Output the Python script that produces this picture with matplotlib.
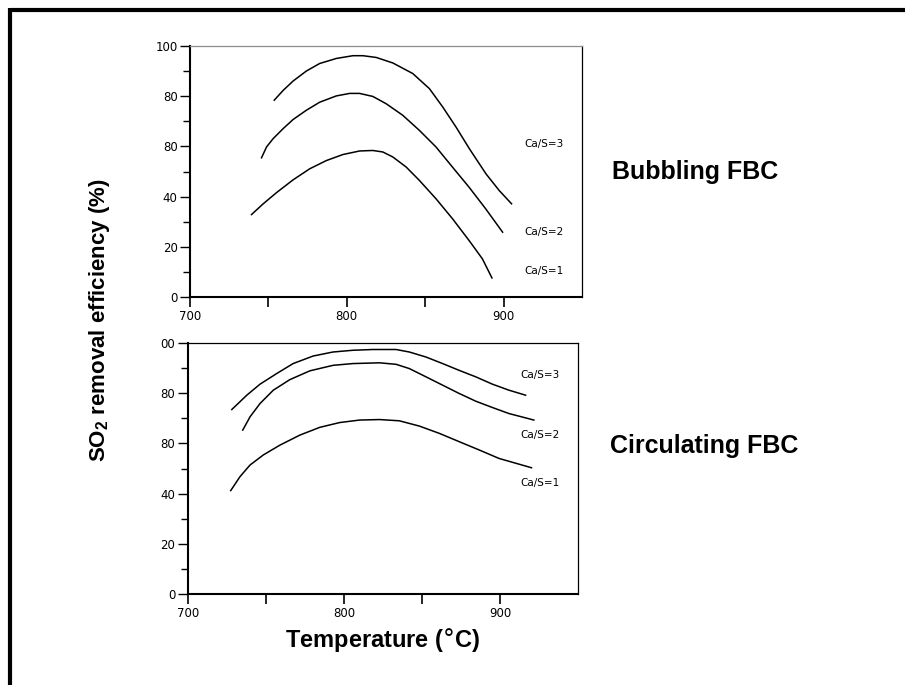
import matplotlib.pyplot as plt
from matplotlib.lines import Line2D
from matplotlib.ticker import MultipleLocator

# Bubbling FBC curves (temperature in C, removal efficiency in %)
bub_t3 = [753.7, 759.4, 765.7, 774.2, 782.7, 793.3, 803.9, 810.3, 818.8, 829.4,
          842.1, 852.7, 861.2, 869.7, 878.2, 888.8, 897.2, 905.1]
bub_e3 = [78.4, 82.3, 86.0, 90.0, 93.0, 95.0, 96.1, 96.1, 95.4, 93.2,
          89.0, 83.0, 75.7, 67.7, 59.1, 49.1, 42.5, 37.2]
bub_t2 = [745.6, 748.8, 753.0, 759.4, 765.7, 774.2, 782.7, 793.3, 801.8, 808.1,
          816.6, 825.1, 835.7, 846.3, 856.9, 867.4, 878.0, 888.6, 899.4]
bub_e2 = [55.5, 59.8, 63.1, 67.1, 70.7, 74.4, 77.6, 80.1, 81.1, 81.1,
          79.9, 77.0, 72.4, 66.4, 59.8, 51.8, 43.8, 35.2, 25.9]
bub_t1 = [739.2, 746.7, 755.1, 765.7, 776.3, 787.0, 797.6, 808.2, 816.6, 823.0,
          829.4, 837.9, 846.3, 856.9, 867.5, 878.0, 886.5, 892.6]
bub_e1 = [32.9, 37.2, 41.6, 46.7, 51.1, 54.4, 56.8, 58.2, 58.4, 57.8,
          55.8, 51.8, 46.5, 39.2, 31.2, 22.6, 15.3, 7.7]

# Circulating FBC curves
cir_t3 = [728.1, 737.7, 746.2, 756.8, 767.4, 780.2, 792.9, 805.7, 818.5, 833.4,
          841.9, 852.6, 863.2, 873.8, 884.5, 895.1, 905.7, 916.4]
cir_e3 = [73.5, 79.2, 83.6, 87.8, 91.8, 94.8, 96.4, 97.1, 97.4, 97.4,
          96.4, 94.4, 91.8, 89.1, 86.5, 83.6, 81.2, 79.2]
cir_t2 = [735.1, 739.8, 746.2, 754.7, 765.3, 778.1, 793.0, 805.7, 822.8, 833.4,
          841.9, 852.6, 863.2, 873.8, 884.5, 895.1, 905.7, 921.7]
cir_e2 = [65.3, 70.6, 75.9, 81.2, 85.4, 88.9, 91.1, 91.8, 92.1, 91.5,
          89.8, 86.5, 83.2, 79.9, 76.8, 74.3, 71.9, 69.3]
cir_t1 = [727.4, 733.4, 739.8, 748.3, 758.9, 771.7, 784.5, 797.2, 810.0, 822.8,
          835.5, 848.3, 861.1, 873.8, 886.6, 899.4, 920.2]
cir_e1 = [41.2, 46.8, 51.4, 55.4, 59.3, 63.3, 66.4, 68.3, 69.3, 69.5,
          69.0, 66.9, 64.0, 60.7, 57.4, 54.0, 50.3]

ratio_labels = ['Ca/S=3', 'Ca/S=2', 'Ca/S=1']
bub_label_y = [61, 25.9, 10.4]
cir_label_y = [87.2, 63.3, 44.1]

x_ticks = [700, 750, 800, 850, 900]
x_ticklabels = ['700', '', '800', '', '900']
y_ticks = [0, 20, 40, 60, 80, 100]
bub_yticklabels = ['0', '20', '40', '80', '80', '100']
cir_yticklabels = ['0', '20', '40', '80', '80', '00']

tick_font = 'DejaVu Sans'
bold_font = ['Liberation Sans']

fig = plt.figure(figsize=(9.05, 6.85), dpi=100)
ax1 = fig.add_axes([0.210, 0.566, 0.433, 0.367])
ax2 = fig.add_axes([0.2077, 0.1328, 0.431, 0.3665])


def style(ax, curves, label_y, yticklabels, top_color):
    for t, e in curves:
        ax.plot(t, e, color='black', lw=1.1, solid_joinstyle='round')
    for lab, y in zip(ratio_labels, label_y):
        ax.text(913, y, lab, fontsize=7.5, family=tick_font, va='center', ha='left')
    ax.set_xlim(700, 950)
    ax.set_ylim(0, 100)
    ax.set_xticks(x_ticks)
    ax.set_xticklabels(x_ticklabels, fontsize=8.5, family=tick_font)
    ax.set_yticks(y_ticks)
    ax.set_yticklabels(yticklabels, fontsize=8.5, family=tick_font)
    ax.yaxis.set_minor_locator(MultipleLocator(10))
    ax.tick_params(axis='x', direction='out', length=7, width=1.2, pad=2)
    ax.tick_params(axis='y', which='major', direction='out', length=7, width=1, pad=2)
    ax.tick_params(axis='y', which='minor', direction='out', length=5, width=1)
    ax.spines['left'].set_linewidth(1.5)
    ax.spines['bottom'].set_linewidth(1.5)
    ax.spines['right'].set_linewidth(0.9)
    ax.spines['top'].set_linewidth(0.9)
    ax.spines['top'].set_color(top_color)


style(ax1, [(bub_t3, bub_e3), (bub_t2, bub_e2), (bub_t1, bub_e1)],
      bub_label_y, bub_yticklabels, '0.55')
style(ax2, [(cir_t3, cir_e3), (cir_t2, cir_e2), (cir_t1, cir_e1)],
      cir_label_y, cir_yticklabels, 'black')

fig.text(612 / 905, 1 - 172 / 685, 'Bubbling FBC', fontsize=18, fontweight='bold',
         family=bold_font, ha='left', va='center')
fig.text(610 / 905, 1 - 446 / 685, 'Circulating FBC', fontsize=18, fontweight='bold',
         family=bold_font, ha='left', va='center')
fig.text(0.423, 0.066, 'Temperature ($\\degree$C)', fontsize=17, fontweight='bold',
         family=bold_font, ha='center', va='center')
fig.text(0.11, 0.533, 'SO$_\\mathregular{2}$ removal efficiency (%)', fontsize=16,
         fontweight='bold', family=bold_font, rotation=90, ha='center', va='center')

# frame on top and left edges
fig.add_artist(Line2D([10.3 / 905, 1.0], [1 - 10.3 / 685] * 2, color='black',
                      lw=3, transform=fig.transFigure, solid_capstyle='butt'))
fig.add_artist(Line2D([10.3 / 905] * 2, [0, 1 - 8.3 / 685], color='black',
                      lw=3, transform=fig.transFigure, solid_capstyle='butt'))

fig.savefig('out.png', dpi=100)
